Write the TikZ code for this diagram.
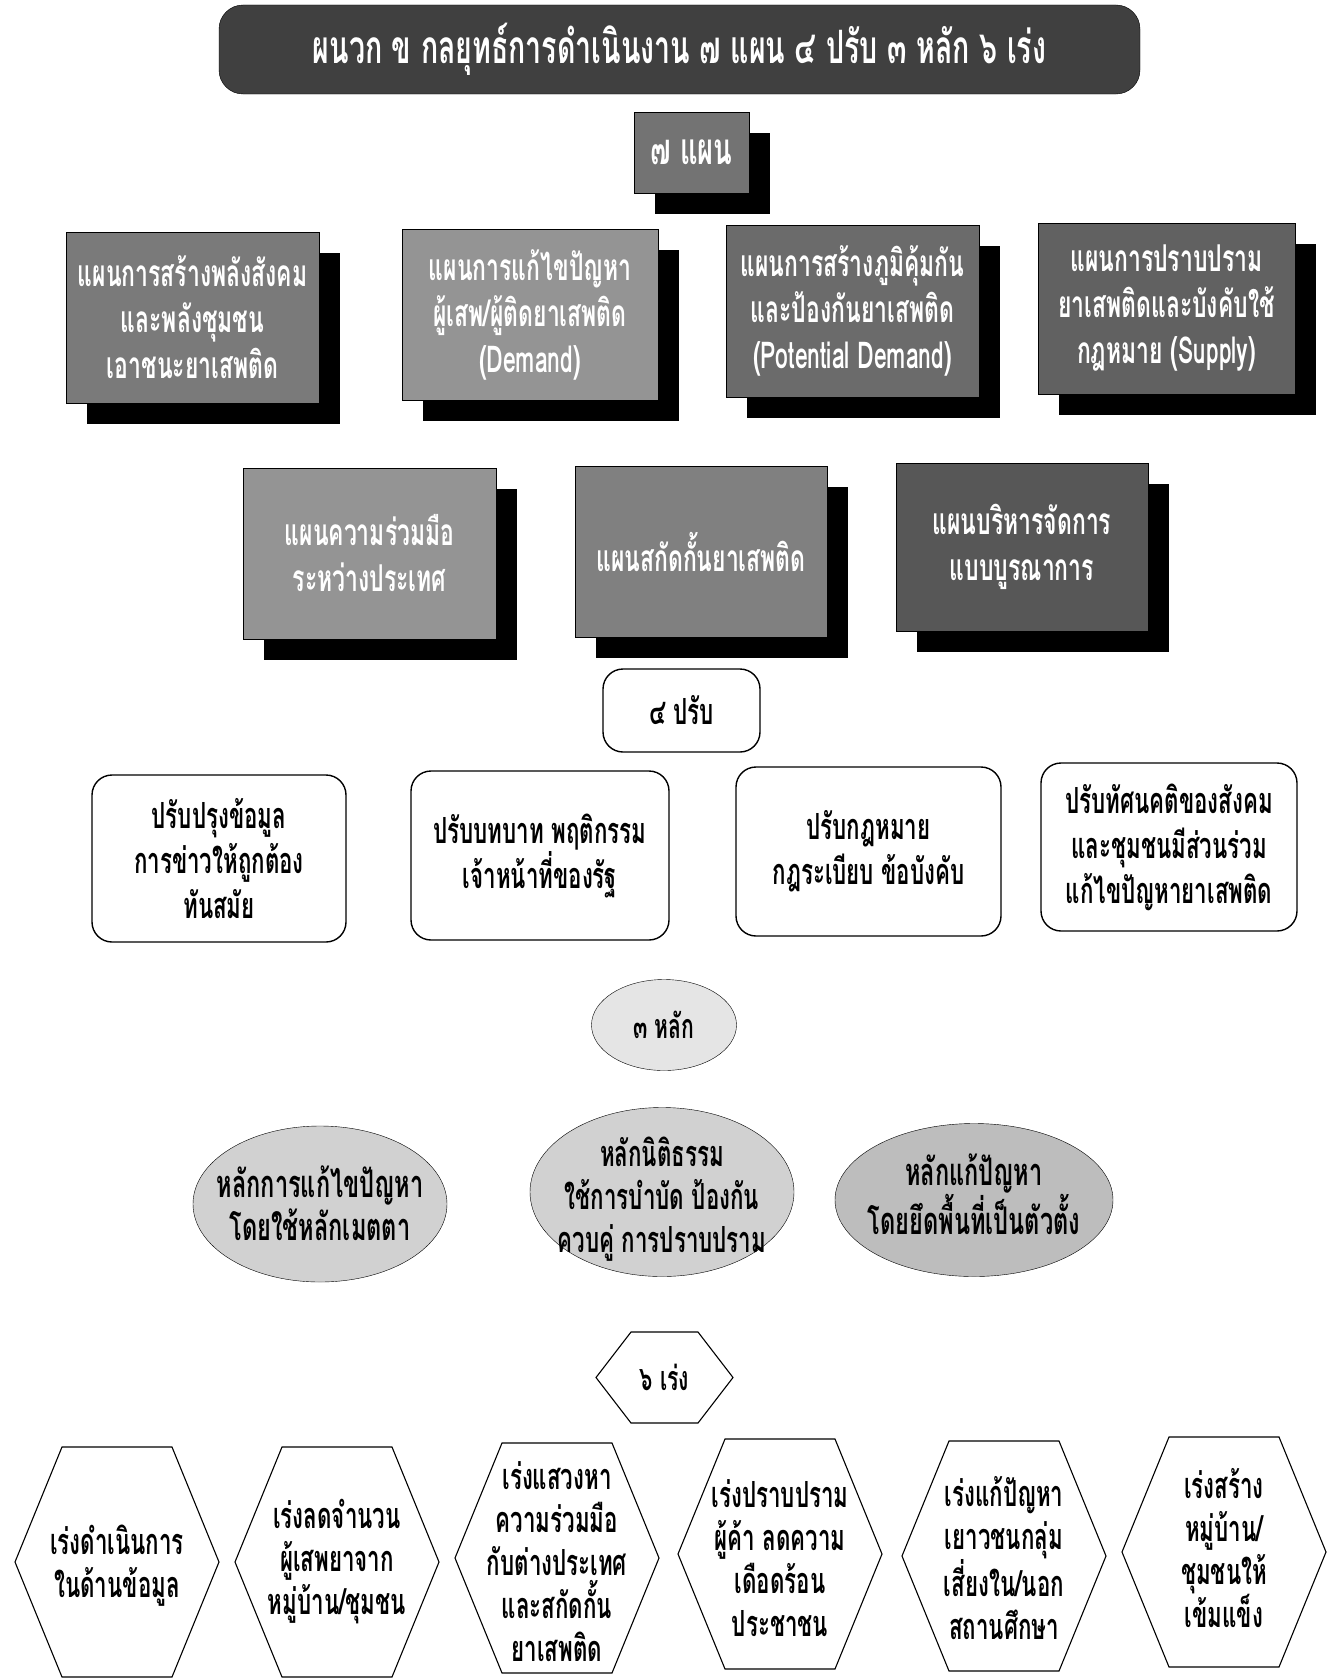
\documentclass[tikz,border=0pt]{standalone}
\usepackage{fontspec}
\newfontfamily\thaifont[Script=Thai,FakeStretch=0.62]{Loma}
\usetikzlibrary{shapes.geometric,shadows}

\tikzset{
  headbox/.style={draw=black, fill=black!75, rounded corners=24pt, text=white, inner sep=0pt,
    font=\thaifont\bfseries\fontsize{46}{52}\selectfont},
  planbox/.style={draw=black, thin, text=white, align=center, inner sep=0pt,
    font=\thaifont\bfseries\fontsize{37}{46}\selectfont,
    drop shadow={shadow xshift=21pt, shadow yshift=-21pt, fill=black, opacity=1}},
  adjbox/.style={draw=black, line width=1.4pt, rounded corners=20pt, align=center, inner sep=0pt,
    font=\thaifont\bfseries\fontsize{36}{45}\selectfont},
  ruleline/.style={draw=black, thin},
  ruletext/.style={align=center, inner sep=0pt,
    font=\thaifont\bfseries\fontsize{38}{43}\selectfont},
  hexline/.style={draw=black, line width=1.1pt},
  hextext/.style={align=center, inner sep=0pt,
    font=\thaifont\bfseries\fontsize{36}{43}\selectfont}
}

\newcommand{\hexat}[5]{%
  \draw[hexline] (#1-#3,#2) -- (#1-#3+#5,#2-#4) -- (#1+#3-#5,#2-#4) -- (#1+#3,#2)
    -- (#1+#3-#5,#2+#4) -- (#1-#3+#5,#2+#4) -- cycle;}

\begin{document}
\begin{tikzpicture}[x=1pt,y=-1pt]
                \useasboundingbox (0,0) rectangle (1341,1678);

                \node[headbox, minimum width=921pt, minimum height=89pt] (head) at (679.5,49.5)
                    {ผนวก ข กลยุทธ์การดำเนินงาน ๗ แผน ๔ ปรับ ๓ หลัก ๖ เร่ง};

                \node[planbox, fill=black!55, minimum width=115pt, minimum height=81pt,
                    font=\thaifont\bfseries\fontsize{44}{48}\selectfont] (seven) at (691.5,152.5) {๗ แผน};

                \node[planbox, fill=black!52, minimum width=253pt, minimum height=171pt] (p1) at (192.5,317.5)
                    {แผนการสร้างพลังสังคม\\และพลังชุมชน\\เอาชนะยาเสพติด};
                \node[planbox, fill=black!42, minimum width=256pt, minimum height=171pt] (p2) at (530,314.5)
                    {แผนการแก้ไขปัญหา\\ผู้เสพ/ผู้ติดยาเสพติด\\(Demand)};
                \node[planbox, fill=black!58, minimum width=253pt, minimum height=172pt] (p3) at (852.5,311)
                    {แผนการสร้างภูมิคุ้มกัน\\และป้องกันยาเสพติด\\(Potential Demand)};
                \node[planbox, fill=black!62, minimum width=257pt, minimum height=171pt] (p4) at (1166.5,308.5)
                    {แผนการปราบปราม\\ยาเสพติดและบังคับใช้\\กฎหมาย (Supply)};
                \node[planbox, fill=black!42, minimum width=253pt, minimum height=171pt] (p5) at (369.5,553.5)
                    {แผนความร่วมมือ\\ระหว่างประเทศ};
                \node[planbox, fill=black!50, minimum width=252pt, minimum height=171pt] (p6) at (701,551.5)
                    {แผนสกัดกั้นยาเสพติด};
                \node[planbox, fill=black!66, minimum width=252pt, minimum height=168pt] (p7) at (1022,547)
                    {แผนบริหารจัดการ\\แบบบูรณาการ};

                \node[adjbox, minimum width=157pt, minimum height=83pt] (four) at (681.5,710.5) {๔ ปรับ};

                \node[adjbox, minimum width=254pt, minimum height=167pt] (a1) at (219,858.5)
                    {ปรับปรุงข้อมูล\\การข่าวให้ถูกต้อง\\ทันสมัย};
                \node[adjbox, minimum width=258pt, minimum height=169pt] (a2) at (540,855.5)
                    {ปรับบทบาท พฤติกรรม\\เจ้าหน้าที่ของรัฐ};
                \node[adjbox, minimum width=265pt, minimum height=169pt] (a3) at (868.5,851.5)
                    {ปรับกฎหมาย\\กฎระเบียบ ข้อบังคับ};
                \node[adjbox, minimum width=256pt, minimum height=168pt] (a4) at (1169,847)
                    {ปรับทัศนคติของสังคม\\และชุมชนมีส่วนร่วม\\แก้ไขปัญหายาเสพติด};

                \draw[ruleline, fill=black!10] (664,1025) ellipse [x radius=72.5pt, y radius=45.5pt];
                \node[ruletext, font=\thaifont\bfseries\fontsize{34}{40}\selectfont] (three) at (664,1025) {๓ หลัก};

                \draw[ruleline, fill=black!18] (320,1204) ellipse [x radius=127pt, y radius=78pt];
                \node[ruletext] (r1) at (320,1203) {หลักการแก้ไขปัญหา\\โดยใช้หลักเมตตา};
                \draw[ruleline, fill=black!18] (662,1192) ellipse [x radius=132pt, y radius=84.5pt];
                \node[ruletext, font=\thaifont\bfseries\fontsize{36}{43}\selectfont] (r2) at (662,1199)
                    {หลักนิติธรรม\\ใช้การบำบัด ป้องกัน\\ควบคู่ การปราบปราม};
                \draw[ruleline, fill=black!26] (974,1200) ellipse [x radius=139pt, y radius=76.5pt];
                \node[ruletext] (r3) at (974,1194) {หลักแก้ปัญหา\\โดยยึดพื้นที่เป็นตัวตั้ง};

                \hexat{664.5}{1377.5}{68.5}{45.5}{35}
                \node[hextext, font=\thaifont\bfseries\fontsize{34}{40}\selectfont] (six) at (664.5,1377.5) {๖ เร่ง};

                \hexat{117}{1562}{102}{115}{47}
                \node[hextext] (s1) at (117,1566) {เร่งดำเนินการ\\ในด้านข้อมูล};
                \hexat{337}{1562}{102}{115}{47}
                \node[hextext] (s2) at (337,1562) {เร่งลดจำนวน\\ผู้เสพยาจาก\\หมู่บ้าน/ชุมชน};
                \hexat{557}{1558}{102}{115}{47}
                \node[hextext] (s3) at (557,1562) {เร่งแสวงหา\\ความร่วมมือ\\กับต่างประเทศ\\และสกัดกั้น\\ยาเสพติด};
                \hexat{780}{1554}{102}{115}{47}
                \node[hextext] (s4) at (780,1558) {เร่งปราบปราม\\ผู้ค้า ลดความ\\เดือดร้อน\\ประชาชน};
                \hexat{1004}{1556}{102}{115}{47}
                \node[hextext] (s5) at (1004,1558) {เร่งแก้ปัญหา\\เยาวชนกลุ่ม\\เสี่ยงใน/นอก\\สถานศึกษา};
                \hexat{1224}{1552}{102}{115}{47}
                \node[hextext] (s6) at (1224,1548) {เร่งสร้าง\\หมู่บ้าน/\\ชุมชนให้\\เข้มแข็ง};
\end{tikzpicture}
\end{document}
